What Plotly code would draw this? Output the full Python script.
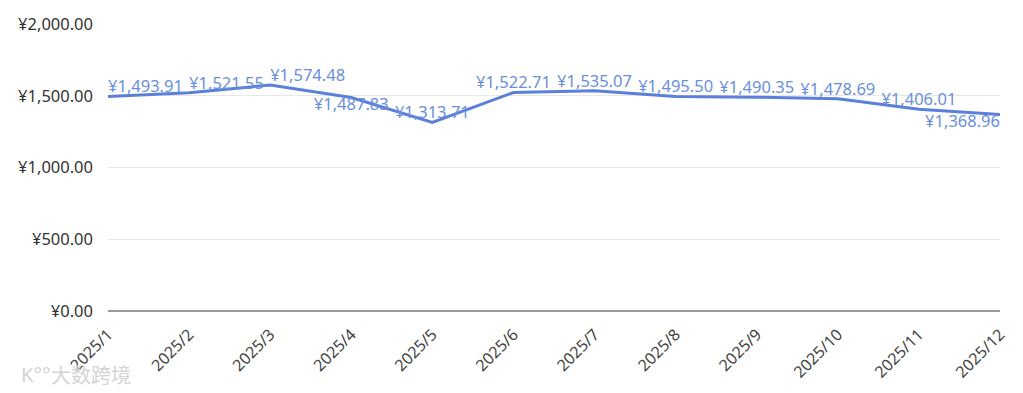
import plotly.graph_objects as go

months = ["2025/1", "2025/2", "2025/3", "2025/4", "2025/5", "2025/6",
          "2025/7", "2025/8", "2025/9", "2025/10", "2025/11", "2025/12"]
prices = [1493.91, 1521.55, 1574.48, 1487.83, 1313.71, 1522.71,
          1535.07, 1495.50, 1490.35, 1478.69, 1406.01, 1368.96]
label_pos = ["top right", "top right", "top right", "bottom center", "top center",
             "top center", "top center", "top center", "top center", "top center",
             "top center", "bottom left"]
y_ticks = [0, 500, 1000, 1500, 2000]

labels = ["¥{:,.2f}".format(v) for v in prices]

fig = go.Figure()
fig.add_trace(go.Scatter(
    x=months, y=prices, mode="lines+text",
    line=dict(color="#5b80db", width=3),
    text=labels, textposition=label_pos,
    textfont=dict(color="#6a8fdc", size=16.5, family="Noto Sans"),
    cliponaxis=False, showlegend=False,
))

fig.update_layout(
    width=1015, height=385,
    margin=dict(l=100, r=23, t=16, b=82),
    paper_bgcolor="white", plot_bgcolor="white",
    font=dict(family="Noto Sans", size=16, color="#333333"),
    xaxis=dict(type="category", range=[0, 11], tickangle=-45,
               showgrid=False, showline=False, ticks="", automargin=False,
               ticklabelstandoff=10,
               tickfont=dict(size=16, color="#444444")),
    yaxis=dict(range=[0, 2000], tickvals=y_ticks,
               ticktext=["¥{:,.2f}".format(v) for v in y_ticks],
               showgrid=True, gridcolor="#e8e8e8", gridwidth=1,
               zeroline=True, zerolinecolor="#999999", zerolinewidth=2,
               ticks="", ticklabelstandoff=14, automargin=False,
               tickfont=dict(size=16.5, color="#333333")),
    annotations=[
        dict(text="K°°", xref="paper", yref="paper", x=-0.1, y=-0.22,
             xanchor="left", yanchor="middle", showarrow=False,
             font=dict(size=20, color="#d4d4d4", family="Noto Sans")),
        dict(text="大数跨境", xref="paper", yref="paper", x=-0.066, y=-0.22,
             xanchor="left", yanchor="middle", showarrow=False,
             font=dict(size=20, color="#d4d4d4", family="Noto Sans CJK SC")),
    ],
)

fig.write_html("out.html")
